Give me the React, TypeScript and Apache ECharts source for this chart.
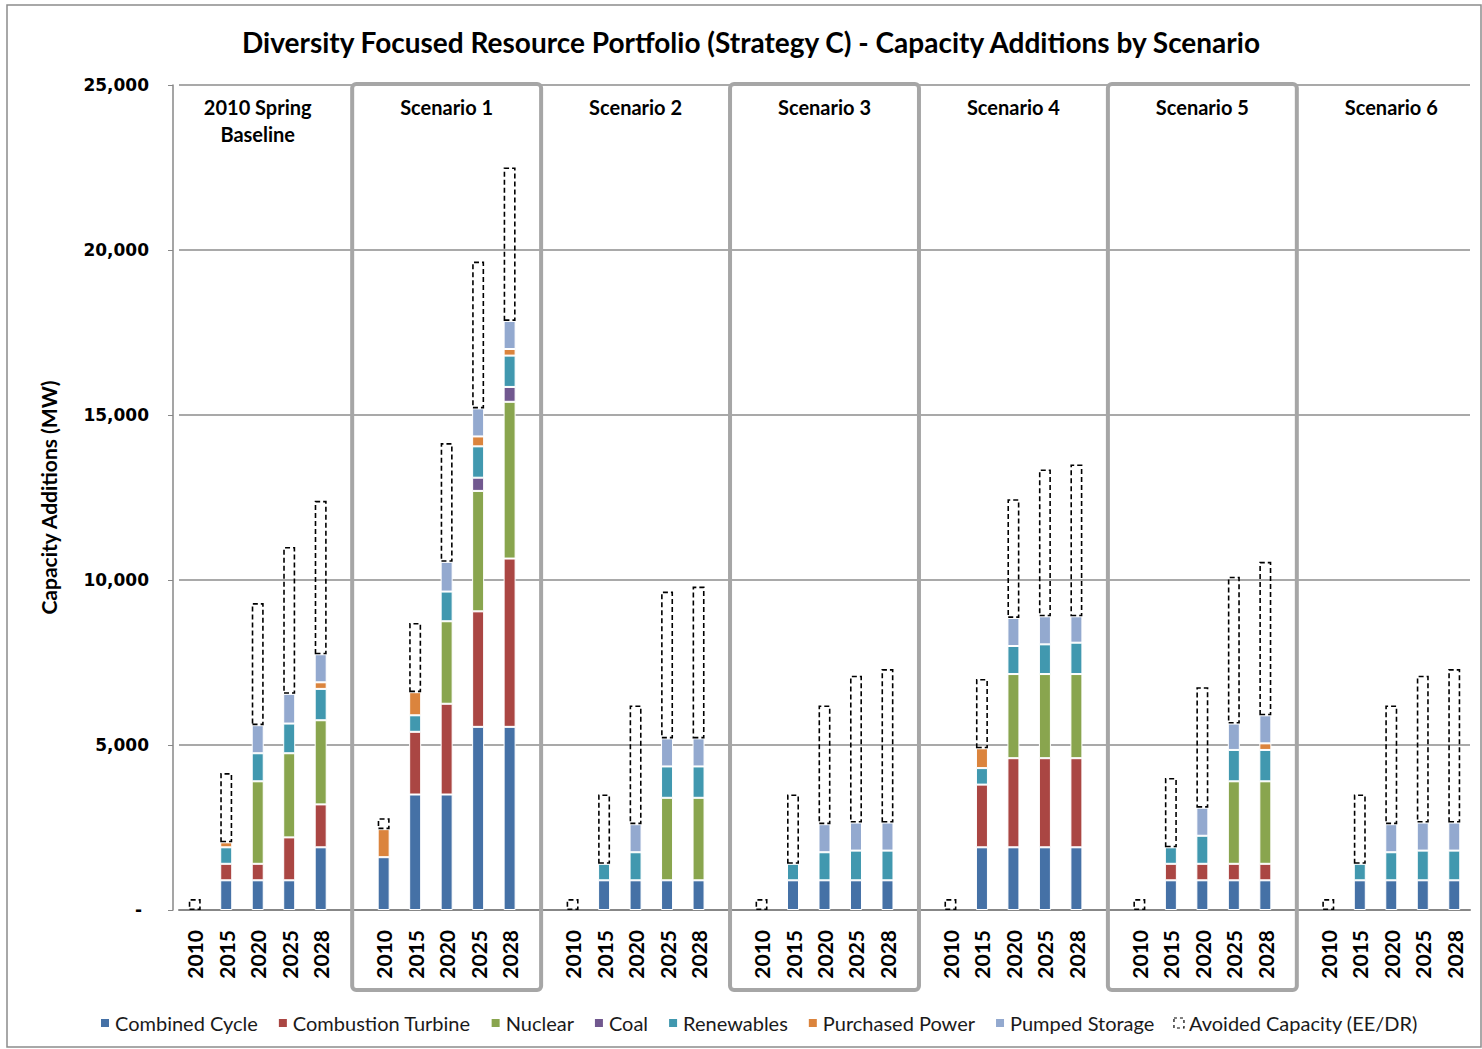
import React, { useEffect, useRef } from 'react';
import * as echarts from 'echarts';

// Scenario groups and study years along the horizontal axis
const scenarioNames = [
  '2010 Spring\nBaseline',
  'Scenario 1',
  'Scenario 2',
  'Scenario 3',
  'Scenario 4',
  'Scenario 5',
  'Scenario 6',
];
const years = ['2010', '2015', '2020', '2025', '2028'];

// Capacity additions (MW), five years per scenario, in scenario order
const combinedCycle = [
  0, 900, 900, 900, 1900,
  1600, 3500, 3500, 5550, 5550,
  0, 900, 900, 900, 900,
  0, 900, 900, 900, 900,
  0, 1900, 1900, 1900, 1900,
  0, 900, 900, 900, 900,
  0, 900, 900, 900, 900,
];
const combustionTurbine = [
  0, 500, 500, 1300, 1300,
  0, 1900, 2750, 3500, 5100,
  0, 0, 0, 0, 0,
  0, 0, 0, 0, 0,
  0, 1900, 2700, 2700, 2700,
  0, 500, 500, 500, 500,
  0, 0, 0, 0, 0,
];
const nuclear = [
  0, 0, 2500, 2550, 2550,
  0, 0, 2500, 3650, 4750,
  0, 0, 0, 2500, 2500,
  0, 0, 0, 0, 0,
  0, 0, 2550, 2550, 2550,
  0, 0, 0, 2500, 2500,
  0, 0, 0, 0, 0,
];
const coal = [
  0, 0, 0, 0, 0,
  0, 0, 0, 400, 450,
  0, 0, 0, 0, 0,
  0, 0, 0, 0, 0,
  0, 0, 0, 0, 0,
  0, 0, 0, 0, 0,
  0, 0, 0, 0, 0,
];
const renewables = [
  0, 500, 850, 900, 950,
  0, 500, 900, 950, 950,
  0, 500, 850, 950, 950,
  0, 500, 850, 900, 900,
  0, 500, 850, 900, 950,
  0, 500, 850, 950, 950,
  0, 500, 850, 900, 900,
];
const purchasedPower = [
  0, 150, 0, 0, 200,
  850, 700, 0, 300, 200,
  0, 0, 0, 0, 0,
  0, 0, 0, 0, 0,
  0, 600, 0, 0, 0,
  0, 0, 0, 0, 200,
  0, 0, 0, 0, 0,
];
const pumpedStorage = [
  0, 0, 850, 900, 850,
  0, 0, 900, 850, 850,
  0, 0, 850, 850, 850,
  0, 0, 850, 850, 850,
  0, 0, 850, 850, 800,
  0, 0, 850, 800, 850,
  0, 0, 850, 850, 850,
];
const avoidedCapacity = [
  330, 2100, 3700, 4450, 4650,
  330, 2100, 3600, 4450, 4650,
  330, 2100, 3600, 4450, 4600,
  330, 2100, 3600, 4450, 4650,
  330, 2100, 3600, 4450, 4600,
  330, 2100, 3650, 4450, 4650,
  330, 2100, 3600, 4450, 4650,
];

const yTickValues = [0, 5000, 10000, 15000, 20000, 25000];

// Scenarios drawn inside a grey frame
const framedScenarios = [1, 3, 5];

const FONT = 'Lato, "Noto Sans", sans-serif';
const AXIS_FONT = '"DejaVu Sans", Verdana, sans-serif';

// One slot per year and a blank slot between scenarios
const slotKeys: string[] = [];
scenarioNames.forEach((_, g) => {
  if (g > 0) slotKeys.push(`gap${g}`);
  years.forEach((y) => slotKeys.push(`${g}|${y}`));
});

function toSlots(values: number[]) {
  const out: (number | null)[] = [];
  values.forEach((v, i) => {
    const g = Math.floor(i / 5);
    if (i % 5 === 0 && g > 0) out.push(null);
    out.push(v === 0 ? null : v);
  });
  return out;
}

const seriesDefs = [
  { name: 'Combined Cycle', color: '#4571a6', values: combinedCycle },
  { name: 'Combustion Turbine', color: '#aa4643', values: combustionTurbine },
  { name: 'Nuclear', color: '#89a54e', values: nuclear },
  { name: 'Coal', color: '#71588f', values: coal },
  { name: 'Renewables', color: '#4198af', values: renewables },
  { name: 'Purchased Power', color: '#db843d', values: purchasedPower },
  { name: 'Pumped Storage', color: '#93a9cf', values: pumpedStorage },
];

const AVOIDED = 'Avoided Capacity (EE/DR)';

export default function App() {
  const ref = useRef<HTMLDivElement>(null);

  useEffect(() => {
    if (!ref.current) return;
    const chart = echarts.init(ref.current, undefined, { renderer: 'svg' });

    const barSeries: any[] = seriesDefs.map((s) => ({
      name: s.name,
      type: 'bar',
      stack: 'total',
      barWidth: 12,
      data: toSlots(s.values),
      itemStyle: { color: s.color, borderColor: '#ffffff', borderWidth: 1 },
      emphasis: { disabled: true },
    }));
    barSeries.push({
      name: AVOIDED,
      type: 'bar',
      stack: 'total',
      barWidth: 12,
      data: toSlots(avoidedCapacity),
      itemStyle: {
        color: 'rgba(0,0,0,0)',
        borderColor: '#000000',
        borderWidth: 1.6,
        borderType: [5, 3],
      },
      emphasis: { disabled: true },
    });

    const baseGraphic: any[] = [
      {
        id: 'frame',
        type: 'rect',
        shape: { x: 7, y: 5, width: 1474, height: 1042 },
        style: { fill: 'none', stroke: '#8c8c8c', lineWidth: 1.5 },
        silent: true,
      },
      {
        id: 'title',
        type: 'text',
        x: 751,
        y: 42,
        style: {
          text: 'Diversity Focused Resource Portfolio (Strategy C) - Capacity Additions by Scenario',
          font: `bold 28px ${FONT}`,
          fill: '#000000',
          align: 'center',
          verticalAlign: 'middle',
        },
        silent: true,
      },
    ];

    chart.setOption({
      animation: false,
      backgroundColor: '#ffffff',
      grid: { left: 179, right: 12, top: 85, bottom: 139, containLabel: false },
      legend: {
        left: 94,
        top: 1008,
        itemWidth: 10,
        itemHeight: 10,
        itemGap: 19,
        textStyle: { fontFamily: FONT, fontSize: 20, color: '#1a1a1a' },
        data: [
          ...seriesDefs.map((s) => ({ name: s.name, icon: 'rect' })),
          {
            name: AVOIDED,
            icon: 'rect',
            itemStyle: {
              color: 'rgba(0,0,0,0)',
              borderColor: '#000000',
              borderWidth: 1.2,
              borderType: [3, 3],
            },
          },
        ],
      },
      xAxis: [
        {
          type: 'category',
          data: slotKeys,
          position: 'bottom',
          boundaryGap: true,
          axisLine: { lineStyle: { color: '#878787', width: 2 } },
          axisTick: { show: false },
          axisLabel: {
            interval: 0,
            rotate: 90,
            margin: 20,
            fontFamily: FONT,
            fontWeight: 'bold',
            fontSize: 21,
            color: '#000000',
            formatter: (v: string) => (v.startsWith('gap') ? '' : v.split('|')[1]),
          },
          splitLine: { show: false },
        },
        {
          type: 'category',
          data: slotKeys,
          position: 'top',
          boundaryGap: true,
          axisLine: { show: false },
          axisTick: { show: false },
          axisLabel: {
            interval: 0,
            inside: true,
            margin: 8,
            fontFamily: FONT,
            fontWeight: 'bold',
            fontSize: 20,
            lineHeight: 27,
            verticalAlign: 'top',
            color: '#000000',
            formatter: (v: string) => {
              if (v.startsWith('gap')) return '';
              const [g, y] = v.split('|');
              return y === years[2] ? scenarioNames[Number(g)] : '';
            },
          },
          splitLine: { show: false },
        },
      ],
      yAxis: {
        type: 'value',
        min: yTickValues[0],
        max: yTickValues[yTickValues.length - 1],
        interval: 5000,
        offset: 6,
        name: 'Capacity Additions (MW)',
        nameLocation: 'middle',
        nameRotate: 90,
        nameGap: 114,
        nameTextStyle: { fontFamily: FONT, fontWeight: 'bold', fontSize: 21, color: '#000000' },
        axisLine: { show: true, lineStyle: { color: '#878787', width: 1.5 } },
        axisTick: { show: true, length: 5, lineStyle: { color: '#878787' } },
        axisLabel: {
          margin: 24,
          fontFamily: AXIS_FONT,
          fontWeight: 'bold',
          fontSize: 17,
          color: '#000000',
          formatter: (v: number) => (v === 0 ? '{z|-}' : v.toLocaleString('en-US')),
          rich: { z: { fontFamily: AXIS_FONT, fontWeight: 'bold', fontSize: 17, padding: [0, 7, 0, 0] } },
        },
        splitLine: { show: true, lineStyle: { color: '#8c8c8c', width: 1.5 } },
      },
      series: barSeries,
      graphic: baseGraphic,
    });

    // Grey frames around alternating scenarios, placed on the blank slots
    const boxes = framedScenarios.map((g) => {
      const leftKey = `gap${g}`;
      const rightKey = `gap${g + 1}`;
      const x0 = chart.convertToPixel({ xAxisIndex: 0 }, leftKey) as number;
      const x1 = chart.convertToPixel({ xAxisIndex: 0 }, rightKey) as number;
      return {
        id: `box${g}`,
        type: 'rect',
        shape: { x: x0, y: 84, width: x1 - x0, height: 906, r: 4 },
        style: { fill: 'none', stroke: '#a6a6a6', lineWidth: 4 },
        silent: true,
        z: 10,
      };
    });
    chart.setOption({ graphic: [...baseGraphic, ...boxes] });

    return () => chart.dispose();
  }, []);

  return (
    <div
      ref={ref}
      style={{ position: 'fixed', left: 0, top: 0, width: 1482, height: 1049 }}
    />
  );
}
